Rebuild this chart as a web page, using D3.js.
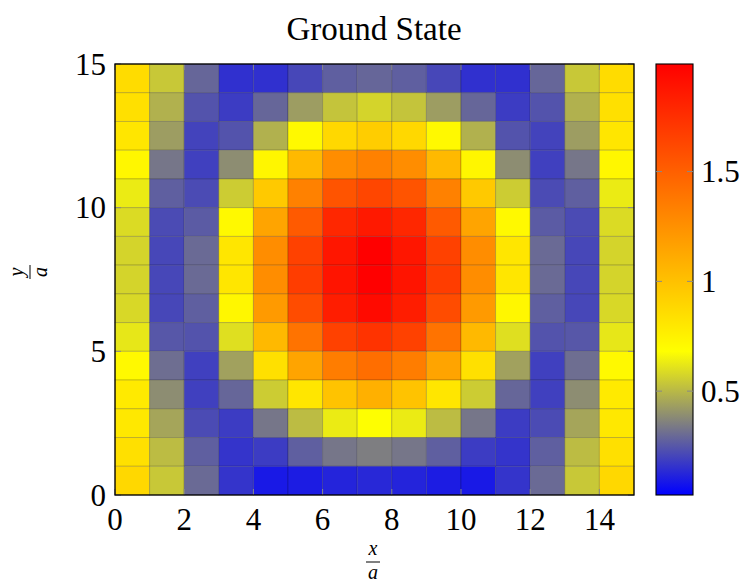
<!DOCTYPE html>
<html>
<head>
<meta charset="utf-8">
<script src="https://cdn.jsdelivr.net/npm/d3@7"></script>
<style>
  body { margin: 0; background: #fff; }
  svg { font-family: "Liberation Serif", "DejaVu Serif", serif; }
</style>
</head>
<body>
<svg class="js-chart" width="747" height="583"></svg>
<script>
// grid cells (x/a and y/a of the lower-left corner)
var xCells = [0, 1, 2, 3, 4, 5, 6, 7, 8, 9, 10, 11, 12, 13, 14],
    yCells = [14, 13, 12, 11, 10, 9, 8, 7, 6, 5, 4, 3, 2, 1, 0];  // row order of psi below (top first)

// |psi| values, one row per y cell, top row first
var psi = [
  [0.86, 0.54, 0.29, 0.15, 0.15, 0.21, 0.27, 0.29, 0.27, 0.21, 0.15, 0.15, 0.29, 0.54, 0.86],
  [0.84, 0.48, 0.24, 0.18, 0.29, 0.43, 0.53, 0.57, 0.53, 0.43, 0.29, 0.18, 0.24, 0.48, 0.84],
  [0.81, 0.43, 0.20, 0.24, 0.48, 0.71, 0.88, 0.94, 0.88, 0.71, 0.48, 0.24, 0.20, 0.43, 0.81],
  [0.72, 0.33, 0.19, 0.39, 0.73, 1.04, 1.27, 1.33, 1.27, 1.04, 0.73, 0.39, 0.19, 0.33, 0.72],
  [0.63, 0.27, 0.22, 0.55, 0.96, 1.33, 1.56, 1.63, 1.56, 1.33, 0.96, 0.55, 0.22, 0.27, 0.63],
  [0.59, 0.22, 0.26, 0.71, 1.15, 1.53, 1.79, 1.86, 1.79, 1.53, 1.15, 0.71, 0.26, 0.22, 0.59],
  [0.57, 0.21, 0.30, 0.81, 1.27, 1.66, 1.88, 1.99, 1.88, 1.66, 1.27, 0.81, 0.30, 0.21, 0.57],
  [0.57, 0.21, 0.30, 0.81, 1.27, 1.68, 1.89, 1.99, 1.89, 1.68, 1.27, 0.81, 0.30, 0.21, 0.57],
  [0.58, 0.21, 0.27, 0.72, 1.20, 1.60, 1.84, 1.94, 1.84, 1.60, 1.20, 0.72, 0.27, 0.21, 0.58],
  [0.62, 0.25, 0.24, 0.60, 1.04, 1.40, 1.66, 1.73, 1.66, 1.40, 1.04, 0.60, 0.24, 0.25, 0.62],
  [0.71, 0.31, 0.19, 0.44, 0.84, 1.15, 1.35, 1.43, 1.35, 1.15, 0.84, 0.44, 0.19, 0.31, 0.71],
  [0.79, 0.39, 0.19, 0.29, 0.55, 0.81, 0.99, 1.09, 0.99, 0.81, 0.55, 0.29, 0.19, 0.39, 0.79],
  [0.80, 0.45, 0.22, 0.18, 0.33, 0.51, 0.63, 0.68, 0.63, 0.51, 0.33, 0.18, 0.22, 0.45, 0.80],
  [0.84, 0.51, 0.27, 0.16, 0.18, 0.27, 0.33, 0.35, 0.33, 0.27, 0.18, 0.16, 0.27, 0.51, 0.84],
  [0.88, 0.54, 0.30, 0.16, 0.09, 0.10, 0.12, 0.13, 0.12, 0.10, 0.09, 0.16, 0.30, 0.54, 0.88]
];

var xTicks = [0, 2, 4, 6, 8, 10, 12, 14],
    yTicks = [0, 5, 10, 15],
    cbTicks = [0.5, 1, 1.5],
    cbRange = [0.027, 1.99],
    mapColors = ['#0000ff', '#ffff00', '#ff8000', '#ff0000'];

var svg = d3.select('.js-chart'),
    plotLeft = 115, plotRight = 634, plotTop = 64, plotBottom = 495;

var x = d3.scaleLinear().domain([0, 15]).range([plotLeft, plotRight]),
    y = d3.scaleLinear().domain([0, 15]).range([plotBottom, plotTop]);

var span = cbRange[1] - cbRange[0],
    color = d3.scaleLinear()
      .domain(mapColors.map(function(c, i) { return cbRange[0] + span * i / (mapColors.length - 1); }))
      .range(mapColors)
      .clamp(true);

// title
svg.append('text')
    .attr('x', 374).attr('y', 40)
    .attr('text-anchor', 'middle')
    .attr('font-size', 33)
    .text('Ground State');

// cells
var cells = [];
psi.forEach(function(row, r) {
  row.forEach(function(v, c) { cells.push({x: xCells[c], y: yCells[r], v: v}); });
});

svg.append('g').selectAll('rect')
    .data(cells)
    .enter()
    .append('rect')
    .attr('x', function(d) { return x(d.x); })
    .attr('y', function(d) { return y(d.y + 1); })
    .attr('width', function(d) { return x(d.x + 1) - x(d.x); })
    .attr('height', function(d) { return y(d.y) - y(d.y + 1); })
    .attr('fill', function(d) { return color(d.v); })
    .attr('stroke', 'rgba(0,0,0,0.18)')
    .attr('stroke-width', 1);

// colorbar
var cbLeft = 656, cbRight = 693,
    cy = d3.scaleLinear().domain(cbRange).range([plotBottom, plotTop]);

var grad = svg.append('defs').append('linearGradient')
    .attr('id', 'cb').attr('x1', 0).attr('x2', 0).attr('y1', 1).attr('y2', 0);
grad.selectAll('stop')
    .data(color.domain())
    .enter()
    .append('stop')
    .attr('offset', function(d) { return (d - cbRange[0]) / span; })
    .attr('stop-color', function(d) { return color(d); });

svg.append('rect')
    .attr('x', cbLeft).attr('y', plotTop)
    .attr('width', cbRight - cbLeft).attr('height', plotBottom - plotTop)
    .attr('fill', 'url(#cb)')
    .attr('stroke', '#000').attr('stroke-width', 1.1);

// ticks (inside, grey)
var tickG = svg.append('g').attr('stroke', '#888').attr('stroke-width', 1);
xTicks.forEach(function(t) {
  tickG.append('line').attr('x1', x(t)).attr('x2', x(t)).attr('y1', plotBottom).attr('y2', plotBottom - 6);
  tickG.append('line').attr('x1', x(t)).attr('x2', x(t)).attr('y1', plotTop).attr('y2', plotTop + 6);
});
yTicks.forEach(function(t) {
  tickG.append('line').attr('x1', plotLeft).attr('x2', plotLeft + 6).attr('y1', y(t)).attr('y2', y(t));
  tickG.append('line').attr('x1', plotRight).attr('x2', plotRight - 6).attr('y1', y(t)).attr('y2', y(t));
});
cbTicks.forEach(function(t) {
  tickG.append('line').attr('x1', cbLeft).attr('x2', cbLeft + 6).attr('y1', cy(t)).attr('y2', cy(t));
  tickG.append('line').attr('x1', cbRight).attr('x2', cbRight - 6).attr('y1', cy(t)).attr('y2', cy(t));
});

// frame
svg.append('rect')
    .attr('x', plotLeft).attr('y', plotTop)
    .attr('width', plotRight - plotLeft).attr('height', plotBottom - plotTop)
    .attr('fill', 'none').attr('stroke', '#000').attr('stroke-width', 1.3);

// tick labels
svg.append('g').selectAll('text')
    .data(xTicks)
    .enter()
    .append('text')
    .attr('x', function(d) { return x(d); })
    .attr('y', 530)
    .attr('text-anchor', 'middle')
    .attr('font-size', 31)
    .text(function(d) { return d; });

svg.append('g').selectAll('text')
    .data(yTicks)
    .enter()
    .append('text')
    .attr('x', 106)
    .attr('y', function(d) { return y(d); })
    .attr('dy', '0.34em')
    .attr('text-anchor', 'end')
    .attr('font-size', 31)
    .text(function(d) { return d; });

svg.append('g').selectAll('text')
    .data(cbTicks)
    .enter()
    .append('text')
    .attr('x', 701)
    .attr('y', function(d) { return cy(d); })
    .attr('dy', '0.34em')
    .attr('font-size', 31)
    .text(function(d) { return d; });

// axis labels as fractions
function fraction(g, num, den) {
  g.append('text').attr('y', -7).attr('text-anchor', 'middle')
      .attr('font-size', 20).attr('font-style', 'italic').text(num);
  g.append('line').attr('x1', -7).attr('x2', 7).attr('y1', 0).attr('y2', 0)
      .attr('stroke', '#000').attr('stroke-width', 1);
  g.append('text').attr('y', 17).attr('text-anchor', 'middle')
      .attr('font-size', 20).attr('font-style', 'italic').text(den);
}
fraction(svg.append('g').attr('transform', 'translate(373,562)'), 'x', 'a');
fraction(svg.append('g').attr('transform', 'translate(30,272) rotate(-90)'), 'y', 'a');
</script>
</body>
</html>
